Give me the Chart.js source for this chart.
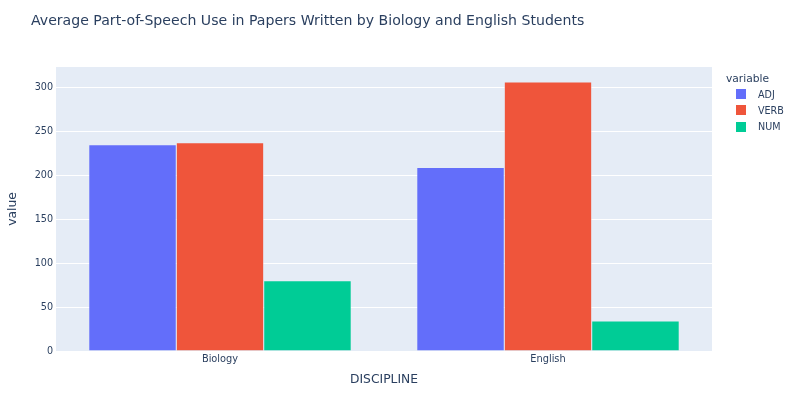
<!DOCTYPE html>
<html>
<head>
<meta charset="utf-8">
<script src="https://cdn.jsdelivr.net/npm/chart.js@4/dist/chart.umd.min.js"></script>
<style>
  body { margin: 0; background: #fff; font-family: "DejaVu Sans", verdana, arial, sans-serif; color: #2a3f5f; }
  #wrap { position: relative; width: 796px; height: 395px; }
  #title { position: absolute; left: 31px; top: 12px; font-size: 14.1px; white-space: nowrap; }
  #legend { position: absolute; left: 726px; top: 72px; font-size: 9.6px; }
  #legend .head { font-size: 10.7px; margin-bottom: 1px; }
  #legend .item { display: flex; align-items: center; height: 16.3px; }
  #legend .swatch { width: 10px; height: 10px; margin-left: 10px; margin-right: 12px; }
</style>
</head>
<body>
<div id="wrap">
  <canvas id="chartCanvas" width="796" height="395"></canvas>
  <div id="title">Average Part-of-Speech Use in Papers Written by Biology and English Students</div>
  <div id="legend"></div>
</div>
<script>
// values
const disciplines = ['Biology', 'English'];
const seriesNames = ['ADJ', 'VERB', 'NUM'];
const adjValues = [234.6, 208.7];
const verbValues = [236.9, 305.8];
const numValues = [80.0, 34.0];
const yTicks = [0, 50, 100, 150, 200, 250, 300];

const colors = ['#636efa', '#EF553B', '#00cc96'];
const fontFamily = '"DejaVu Sans", verdana, arial, sans-serif';
const textColor = '#2a3f5f';

const seriesValues = [adjValues, verbValues, numValues];

// plot background like plotly
const plotBg = {
  id: 'plotBg',
  beforeDraw(chart) {
    const { ctx, chartArea } = chart;
    ctx.save();
    ctx.fillStyle = '#E5ECF6';
    ctx.fillRect(chartArea.left, chartArea.top, chartArea.right - chartArea.left, chartArea.bottom - chartArea.top);
    ctx.restore();
  }
};

const ctx = document.getElementById('chartCanvas').getContext('2d');
const chart = new Chart(ctx, {
  type: 'bar',
  data: {
    labels: disciplines,
    datasets: seriesNames.map((name, i) => ({
      label: name,
      data: seriesValues[i],
      backgroundColor: colors[i],
      borderColor: '#E5ECF6',
      borderWidth: 0.5,
      barPercentage: 1.0,
      categoryPercentage: 0.8
    }))
  },
  options: {
    responsive: false,
    animation: false,
    layout: { padding: { top: 67, right: 84, bottom: 0, left: 0 } },
    plugins: {
      legend: { display: false },
      title: { display: false },
      tooltip: { enabled: false }
    },
    scales: {
      x: {
        grid: { display: false, drawTicks: false },
        border: { display: false },
        ticks: { color: textColor, font: { family: fontFamily, size: 9.8 }, padding: 3 },
        title: {
          display: true,
          text: 'DISCIPLINE',
          color: textColor,
          font: { family: fontFamily, size: 12.3 },
          padding: { top: 0, bottom: 8 }
        },
        afterFit(scale) { scale.height = 44; }
      },
      y: {
        min: 0,
        max: 323,
        grid: { color: '#ffffff', lineWidth: 1, drawTicks: false },
        border: { display: false },
        afterBuildTicks(scale) {
          scale.ticks = yTicks.map(v => ({ value: v }));
        },
        ticks: {
          color: textColor,
          font: { family: fontFamily, size: 9.6 },
          padding: 3
        },
        title: {
          display: true,
          text: 'value',
          color: textColor,
          font: { family: fontFamily, size: 12.3 },
          padding: { top: 5, bottom: 0 }
        },
        afterFit(scale) { scale.width = 56; }
      }
    }
  },
  plugins: [plotBg]
});

// html legend
const legend = document.getElementById('legend');
legend.innerHTML = '<div class="head">variable</div>' + seriesNames.map((name, i) =>
  `<div class="item"><span class="swatch" style="background:${colors[i]}"></span>${name}</div>`
).join('');
</script>
</body>
</html>
